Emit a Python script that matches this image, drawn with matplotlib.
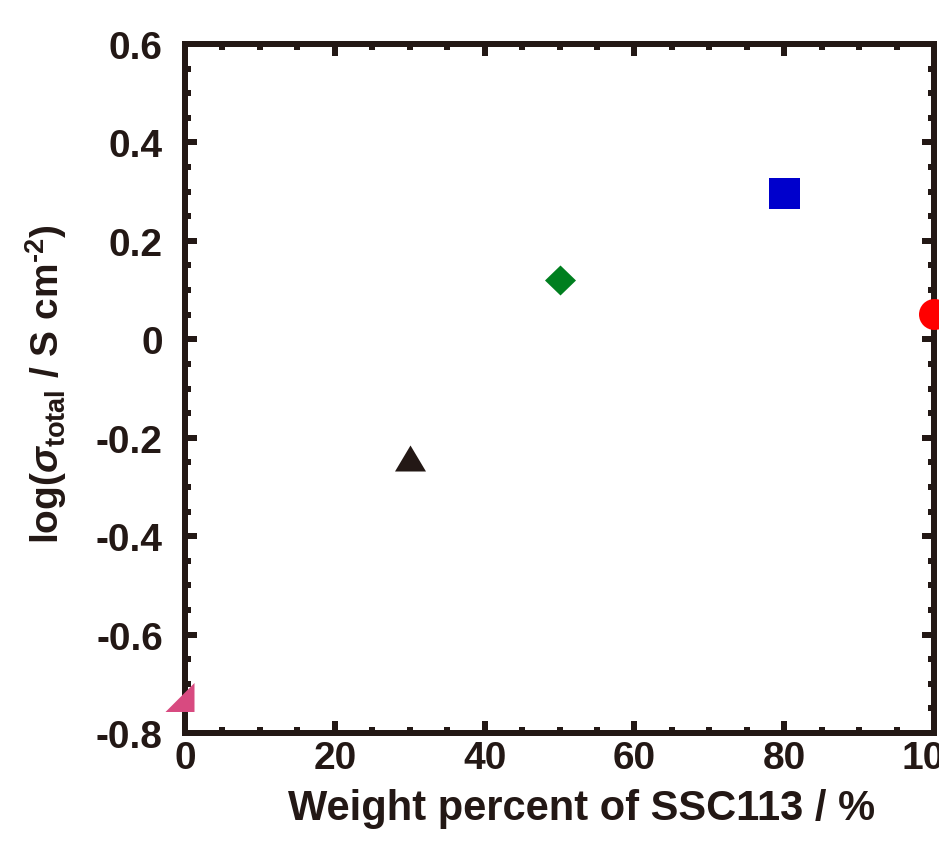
'''
Conductivity vs SSC113 content
'''
import matplotlib
matplotlib.use('Agg')
import matplotlib.pyplot as plt
from matplotlib.ticker import MultipleLocator

# Data
weight_pct = [0, 30, 50, 80, 100]
log_sigma = [-0.726, -0.241, 0.121, 0.298, 0.052]
colors = ['#d84a80', '#231815', '#007f1f', '#0000cc', '#ff0000']

# marker shapes (custom verts give the exact width/height of the original)
markers = [
    [(-20, -14.5), (9, 14.5), (9, -14.5)],          # clipped pink triangle
    [(-15.5, -13), (0, 13), (15.5, -13)],           # up triangle
    [(-15.5, 0), (0, 15), (15.5, 0), (0, -15)],     # diamond
    [(-15.5, -15.5), (-15.5, 15.5), (15.5, 15.5), (15.5, -15.5)],  # square
    'o',
]
sizes = [40, 31, 31, 31, 31]  # px

ink = '#231815'
dpi = 100

plt.rcParams['font.family'] = 'Liberation Sans'
plt.rcParams['font.weight'] = 'bold'
plt.rcParams['axes.labelweight'] = 'bold'
plt.rcParams['mathtext.fontset'] = 'custom'
plt.rcParams['mathtext.rm'] = 'Liberation Sans:bold'
plt.rcParams['mathtext.it'] = 'Liberation Sans:bold:italic'
plt.rcParams['mathtext.bf'] = 'Liberation Sans:bold'

fig = plt.figure(figsize=(9.39, 8.45), dpi=dpi)
ax = fig.add_axes([185/939, 1 - 734/845, (934-185)/939, (734-45)/845])

for x, y, c, m, s in zip(weight_pct, log_sigma, colors, markers, sizes):
    ax.plot([x], [y], linestyle='none', marker=m, color=c, markeredgewidth=0,
            markersize=s*72/dpi, clip_on=False, zorder=5)

ax.set_xlim(0, 100)
ax.set_ylim(-0.8, 0.6)
ax.xaxis.set_major_locator(MultipleLocator(20))
ax.xaxis.set_minor_locator(MultipleLocator(5))
ax.yaxis.set_major_locator(MultipleLocator(0.2))
ax.yaxis.set_minor_locator(MultipleLocator(0.05))

def fmt(v, pos):
    if abs(v) < 1e-9:
        return '0'
    return '%.1f' % v
ax.yaxis.set_major_formatter(plt.FuncFormatter(fmt))

for sp in ax.spines.values():
    sp.set_linewidth(6*72/dpi)
    sp.set_color(ink)

ax.tick_params(which='both', direction='in', top=True, right=True,
               width=6*72/dpi, color=ink, labelcolor=ink, labelsize=28)
ax.tick_params(which='major', length=12*72/dpi)
ax.tick_params(which='minor', length=6*72/dpi)
ax.tick_params(axis='y', pad=16)
ax.tick_params(axis='x', pad=5)

ax.set_xlabel('Weight percent of SSC113 / %', fontsize=30, color=ink)
ax.set_ylabel(r'log($\mathit{\sigma}_{\mathrm{total}}$ / S cm$^{\text{-2}}$)',
              fontsize=28, color=ink)
ax.xaxis.set_label_coords(0.529, -0.08)
ax.yaxis.set_label_coords(-0.155, 0.508)

fig.savefig('out.png', dpi=dpi)
